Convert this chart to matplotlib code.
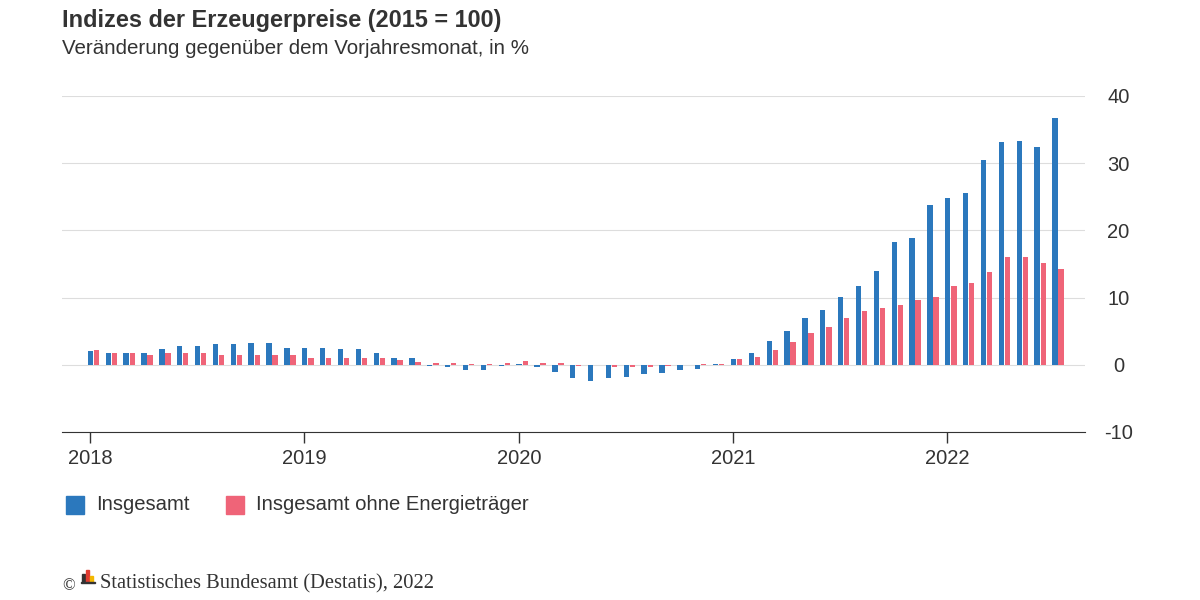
import matplotlib.pyplot as plt
from matplotlib.patches import Rectangle
import numpy as np

plt.rcParams['font.family'] = ['Liberation Sans', 'DejaVu Sans']
plt.rcParams['axes.unicode_minus'] = False

# monthly values Jan 2018 .. Jul 2022, change vs. previous year in %
insgesamt = [2.05, 1.8, 1.8, 1.8, 2.3, 2.8, 2.8, 3.1, 3.1, 3.3, 3.3, 2.5,
             2.5, 2.5, 2.3, 2.3, 1.8, 1.0, 1.0, -0.2, -0.3, -0.7, -0.7, -0.2,
             0.1, -0.3, -1.1, -2.0, -2.4, -2.0, -1.8, -1.3, -1.2, -0.8, -0.6, 0.1,
             0.8, 1.7, 3.6, 5.0, 7.0, 8.2, 10.1, 11.7, 14.0, 18.2, 18.9, 23.8,
             24.8, 25.6, 30.5, 33.1, 33.3, 32.4, 36.8]
ohne_energie = [2.2, 1.8, 1.8, 1.5, 1.8, 1.8, 1.8, 1.5, 1.5, 1.5, 1.5, 1.5,
                1.0, 1.0, 1.0, 1.0, 1.0, 0.7, 0.4, 0.3, 0.3, 0.1, 0.1, 0.3,
                0.5, 0.3, 0.3, -0.2, -0.1, -0.4, -0.4, -0.3, -0.2, 0.0, 0.1, 0.1,
                0.8, 1.2, 2.2, 3.4, 4.8, 5.6, 7.0, 8.0, 8.5, 8.9, 9.6, 10.1,
                11.7, 12.2, 13.8, 16.1, 16.1, 15.2, 14.3]
years = ['2018', '2019', '2020', '2021', '2022']
yticks = [-10, 0, 10, 20, 30, 40]

blue = '#2b78bd'
pink = '#ef6478'

fig = plt.figure(figsize=(12, 6), dpi=100)
ax = fig.add_axes([62/1200, 1-432/600, 1023/1200, 336/600])

x = np.arange(len(insgesamt))
ax.bar(x + 0.02, insgesamt, width=0.3, color=blue, zorder=3)
ax.bar(x + 0.36, ohne_energie, width=0.3, color=pink, zorder=3)

ax.set_xlim(-1.57, 55.7)
ax.set_ylim(-10, 40)
ax.set_yticks(yticks)
ax.yaxis.tick_right()
ax.tick_params(axis='y', length=0, labelsize=14.5, colors='#333333', pad=24)
for lab in ax.get_yticklabels():
    lab.set_horizontalalignment('center')
ax.grid(axis='y', color='#dddddd', linewidth=0.8, zorder=0)
ax.set_xticks([12*i for i in range(len(years))])
ax.set_xticklabels(years)
ax.tick_params(axis='x', length=8, width=1, color='#333333', labelsize=14.5,
               colors='#333333', pad=4)
for s in ['top', 'right', 'left']:
    ax.spines[s].set_visible(False)
ax.spines['bottom'].set_color('#333333')

fig.text(62/1200, 1-20/600, 'Indizes der Erzeugerpreise (2015 = 100)',
         fontsize=16.9, fontweight='bold', color='#333333', va='center')
fig.text(62/1200, 1-48/600, 'Veränderung gegenüber dem Vorjahresmonat, in %',
         fontsize=14.8, color='#333333', va='center')

# legend
fig.patches.append(Rectangle((66/1200, 1-514/600), 18/1200, 18/600,
                             transform=fig.transFigure, color=blue))
fig.text(96/1200, 1-505/600, 'Insgesamt', fontsize=14.6, color='#333333', va='center')
fig.patches.append(Rectangle((226/1200, 1-514/600), 18/1200, 18/600,
                             transform=fig.transFigure, color=pink))
fig.text(256/1200, 1-505/600, 'Insgesamt ohne Energieträger', fontsize=14.6,
         color='#333333', va='center')

# footer
fig.text(62/1200, 1-586/600, '©', fontsize=12, family='Liberation Serif',
         color='#333333', va='center')
for dx, h, c in [(0, 8, '#333333'), (4, 12, '#e03c31'), (8, 6, '#f3b700')]:
    fig.patches.append(Rectangle(((82+dx)/1200, 1-582/600), 3/1200, h/600,
                                 transform=fig.transFigure, color=c))
fig.patches.append(Rectangle((81/1200, 1-583/600), 14/1200, 1/600,
                             transform=fig.transFigure, color='#333333'))
fig.text(100/1200, 1-584/600, 'Statistisches Bundesamt (Destatis), 2022',
         fontsize=14.8, family='Liberation Serif', color='#333333', va='center')

fig.savefig('out.png')
